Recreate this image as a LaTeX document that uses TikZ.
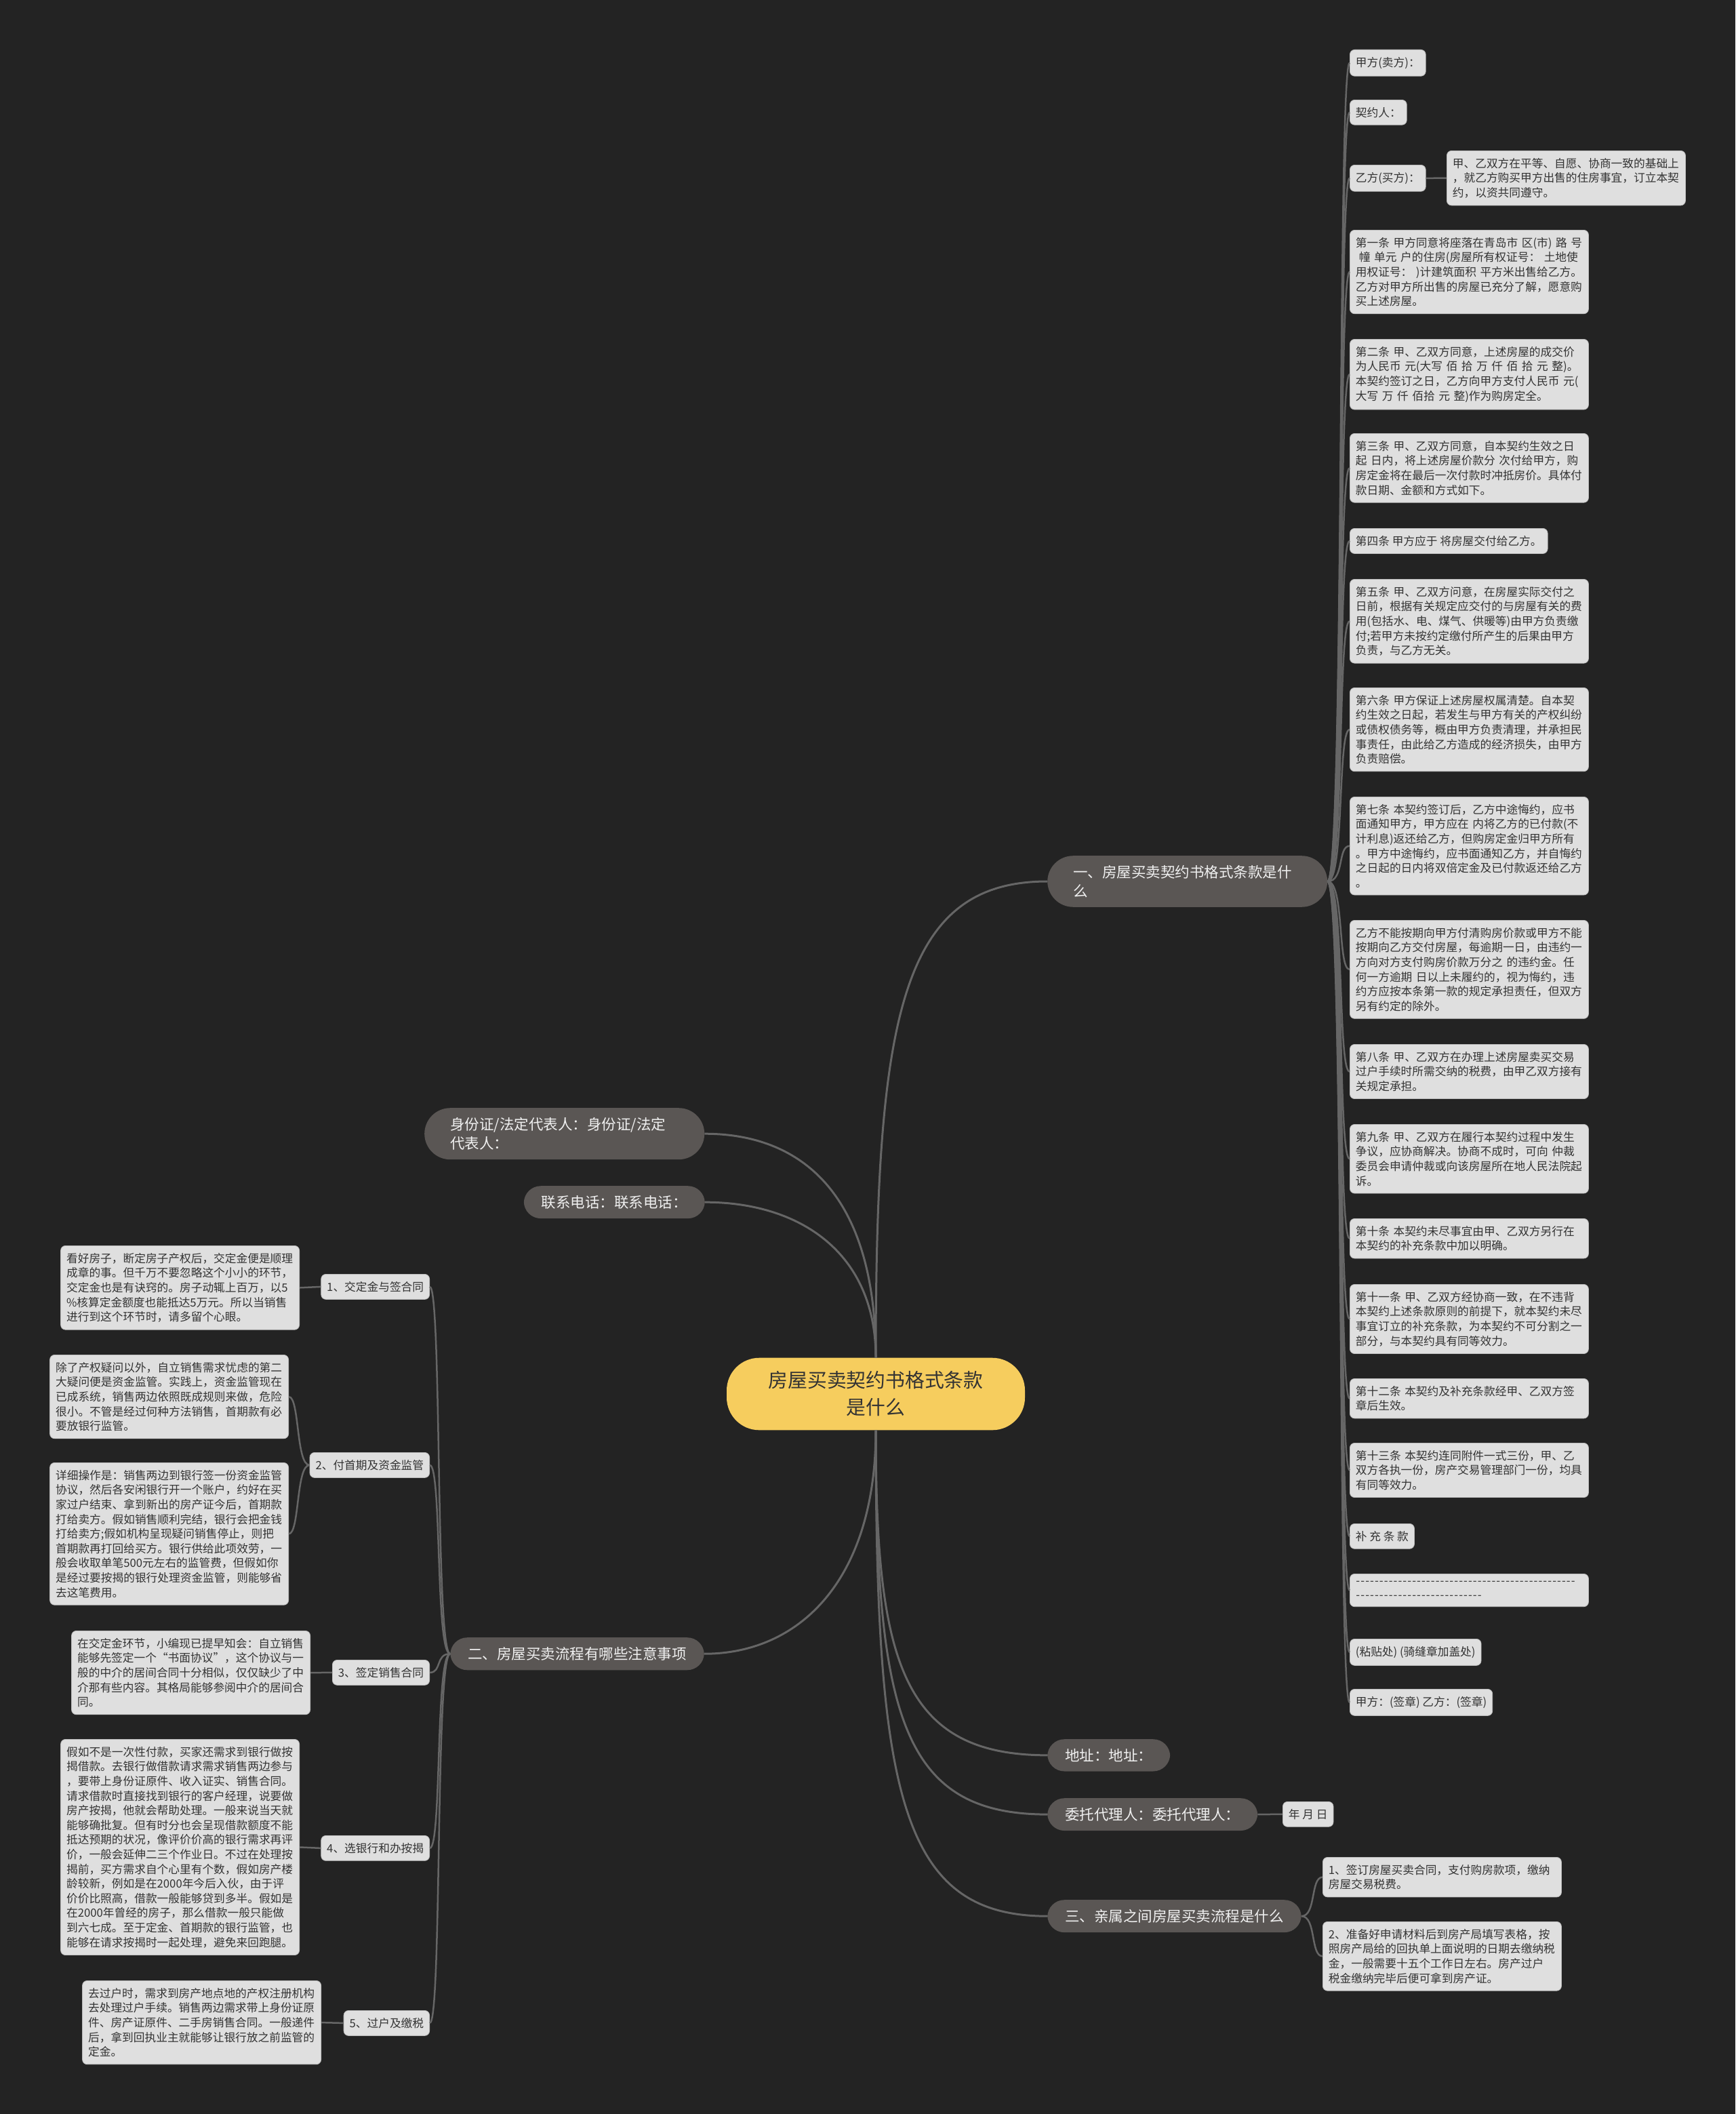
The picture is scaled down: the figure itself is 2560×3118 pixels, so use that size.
\documentclass[tikz,border=0pt]{standalone}
\usepackage{fontspec}
\setmainfont{Noto Sans CJK SC}
\usepackage{tikz}
\usetikzlibrary{positioning,calc}
\definecolor{bgdark}{HTML}{232323}
\definecolor{leaffill}{HTML}{DFDFDF}
\definecolor{leafline}{HTML}{BDBDBD}
\definecolor{inkdark}{HTML}{333333}
\definecolor{branchfill}{HTML}{5A5654}
\definecolor{rootfill}{HTML}{F6CD5E}
\definecolor{edgegray}{HTML}{666666}
\newcommand{\dashrun}[1]{\foreach \i in {1,...,#1}{\makebox[6.9pt]{-}}}

\begin{document}
\begin{tikzpicture}[x=1pt, y=-1pt,
  rootnode/.style={fill=rootfill, rounded corners=48pt, text=inkdark,
               text width=320pt, align=center, inner xsep=60pt, inner ysep=20pt,
               font=\fontsize{28.8}{40}\selectfont},
  branch/.style={fill=branchfill, rounded corners=25pt, text=white!94!black,
              inner xsep=26pt, inner ysep=14pt, align=left,
              font=\fontsize{21.5}{28}\selectfont},
  branchw/.style={branch, rounded corners=38pt, text width=337pt, inner xsep=38pt},
  leaf/.style={fill=leaffill, draw=leafline, line width=0.8pt, rounded corners=7pt,
               text=inkdark, inner xsep=8.5pt, inner ysep=10.7pt, align=left,
               anchor=north west, font=\fontsize{16.7}{21.6}\selectfont},
  leafw/.style={leaf, text width=335pt},
  edge/.style={line width=3pt, edgegray},
  twig/.style={line width=2.5pt, edgegray},
]

% background and frame
\fill[bgdark] (0,0) rectangle (2560,3118);
\useasboundingbox (0,0) rectangle (2560,3118);

% root
\node[rootnode] (root) at (1292,2056) {房屋买卖契约书格式条款\\是什么};

% main branches
\node[branchw, anchor=north west] (bA) at (1545,1262) {一、房屋买卖契约书格式条款是什\\么};
\node[branchw, anchor=north west] (bId) at (626,1634) {身份证/法定代表人：身份证/法定\\代表人：};
\node[branch, anchor=north east] (bTel) at (1040,1749) {联系电话：联系电话：};
\node[branch, anchor=north east] (bB) at (1039,2415) {二、房屋买卖流程有哪些注意事项};
\node[branch, anchor=north west] (bAddr) at (1545,2565) {地址：地址：};
\node[branch, anchor=north west] (bAgent) at (1545,2652) {委托代理人：委托代理人：};
\node[branch, anchor=north west] (bC) at (1545,2802) {三、亲属之间房屋买卖流程是什么};

\draw[edge] (root.north) .. controls +(0,-505) and +(-215,0) .. (bA.west);
\draw[edge] (root.north) .. controls +(0,-245) and +(140,0) .. (bId.east);
\draw[edge] (root.north) .. controls +(0,-155) and +(140,0) .. (bTel.east);
\draw[edge] (root.south) .. controls +(0,220) and +(141,0) .. (bB.east);
\draw[edge] (root.south) .. controls +(0,340) and +(-215,0) .. (bAddr.west);
\draw[edge] (root.south) .. controls +(0,420) and +(-215,0) .. (bAgent.west);
\draw[edge] (root.south) .. controls +(0,540) and +(-215,0) .. (bC.west);

% branch one: contract clauses
\node[leaf] (jia) at (1991,73) {甲方(卖方)：};
\node[leaf] (qyr) at (1991,147) {契约人：};
\node[leaf] (yi) at (1991,243) {乙方(买方)：};
\node[leafw] (yiTxt) at (2134,222) {甲、乙双方在平等、自愿、协商一致的基础上\\，就乙方购买甲方出售的住房事宜，订立本契\\约，以资共同遵守。};
\node[leafw] (art1) at (1991,339) {第一条 甲方同意将座落在青岛市 区(市) 路 号\\\hspace*{0.3em}幢 单元 户的住房(房屋所有权证号： 土地使\\用权证号： )计建筑面积 平方米出售给乙方。\\乙方对甲方所出售的房屋已充分了解，愿意购\\买上述房屋。};
\node[leafw] (art2) at (1991,500) {第二条 甲、乙双方同意，上述房屋的成交价\\为人民币 元(大写 佰 拾 万 仟 佰 拾 元 整)。\\本契约签订之日，乙方向甲方支付人民币 元(\\大写 万 仟 佰拾 元 整)作为购房定全。};
\node[leafw] (art3) at (1991,639) {第三条 甲、乙双方同意，自本契约生效之日\\起 日内，将上述房屋价款分 次付给甲方，购\\房定金将在最后一次付款时冲抵房价。具体付\\款日期、金额和方式如下。};
\node[leaf] (art4) at (1991,779) {第四条 甲方应于 将房屋交付给乙方。};
\node[leafw] (art5) at (1991,854) {第五条 甲、乙双方问意，在房屋实际交付之\\日前，根据有关规定应交付的与房屋有关的费\\用(包括水、电、煤气、供暖等)由甲方负责缴\\付;若甲方未按约定缴付所产生的后果由甲方\\负责，与乙方无关。};
\node[leafw] (art6) at (1991,1014) {第六条 甲方保证上述房屋权属清楚。自本契\\约生效之日起，若发生与甲方有关的产权纠纷\\或债权债务等，概由甲方负责清理，并承担民\\事责任，由此给乙方造成的经济损失，由甲方\\负责赔偿。};
\node[leafw] (art7) at (1991,1175) {第七条 本契约签订后，乙方中途悔约，应书\\面通知甲方，甲方应在 内将乙方的已付款(不\\计利息)返还给乙方，但购房定金归甲方所有\\。甲方中途悔约，应书面通知乙方，并自悔约\\之日起的日内将双倍定金及已付款返还给乙方\\。};
\node[leafw] (art7b) at (1991,1357) {乙方不能按期向甲方付清购房价款或甲方不能\\按期向乙方交付房屋，每逾期一日，由违约一\\方向对方支付购房价款万分之 的违约金。任\\何一方逾期 日以上未履约的，视为悔约，违\\约方应按本条第一款的规定承担责任，但双方\\另有约定的除外。};
\node[leafw] (art8) at (1991,1540) {第八条 甲、乙双方在办理上述房屋卖买交易\\过户手续时所需交纳的税费，由甲乙双方接有\\关规定承担。};
\node[leafw] (art9) at (1991,1658) {第九条 甲、乙双方在履行本契约过程中发生\\争议，应协商解决。协商不成时，可向 仲裁\\委员会申请仲裁或向该房屋所在地人民法院起\\诉。};
\node[leafw] (art10) at (1991,1797) {第十条 本契约未尽事宜由甲、乙双方另行在\\本契约的补充条款中加以明确。};
\node[leafw] (art11) at (1991,1894) {第十一条 甲、乙双方经协商一致，在不违背\\本契约上述条款原则的前提下，就本契约未尽\\事宜订立的补充条款，为本契约不可分割之一\\部分，与本契约具有同等效力。};
\node[leafw] (art12) at (1991,2033) {第十二条 本契约及补充条款经甲、乙双方签\\章后生效。};
\node[leafw] (art13) at (1991,2128) {第十三条 本契约连同附件一式三份，甲、乙\\双方各执一份，房产交易管理部门一份，均具\\有同等效力。};
\node[leaf] (bc) at (1991,2247) {补 充 条 款};
\node[leafw] (dash) at (1991,2321) {\dashrun{47}\\\dashrun{27}};
\node[leaf] (stick) at (1991,2417) {(粘贴处) (骑缝章加盖处)};
\node[leaf] (sign) at (1991,2491) {甲方：(签章) 乙方：(签章)};

\foreach \n in {jia,qyr,yi,art1,art2,art3,art4,art5,art6,art7,art7b,art8,art9,
                art10,art11,art12,art13,bc,dash,stick,sign}
  \draw[twig] (bA.east) .. controls +(25,0) and +(-18,0) .. (\n.west);
\draw[twig] (yi.east) -- (yiTxt.west);

% branch two: steps on the left
\node[leaf, anchor=north east] (s1) at (634,1879) {1、交定金与签合同};
\node[leafw, anchor=north east] (s1t) at (442,1837) {看好房子，断定房子产权后，交定金便是顺理\\成章的事。但千万不要忽略这个小小的环节，\\交定金也是有诀窍的。房子动辄上百万，以5\\\%核算定金额度也能抵达5万元。所以当销售\\进行到这个环节时，请多留个心眼。};
\node[leaf, anchor=north east] (s2) at (634,2142) {2、付首期及资金监管};
\node[leafw, anchor=north east] (s2a) at (426,1998) {除了产权疑问以外，自立销售需求忧虑的第二\\大疑问便是资金监管。实践上，资金监管现在\\已成系统，销售两边依照既成规则来做，危险\\很小。不管是经过何种方法销售，首期款有必\\要放银行监管。};
\node[leafw, anchor=north east] (s2b) at (426,2157) {详细操作是：销售两边到银行签一份资金监管\\协议，然后各安闲银行开一个账户，约好在买\\家过户结束、拿到新出的房产证今后，首期款\\打给卖方。假如销售顺利完结，银行会把金钱\\打给卖方;假如机构呈现疑问销售停止，则把\\首期款再打回给买方。银行供给此项效劳，一\\般会收取单笔500元左右的监管费，但假如你\\是经过要按揭的银行处理资金监管，则能够省\\去这笔费用。};
\node[leaf, anchor=north east] (s3) at (634,2448) {3、签定销售合同};
\node[leafw, anchor=north east] (s3t) at (458,2405) {在交定金环节，小编现已提早知会：自立销售\\能够先签定一个“书面协议”，这个协议与一\\般的中介的居间合同十分相似，仅仅缺少了中\\介那有些内容。其格局能够参阅中介的居间合\\同。};
\node[leaf, anchor=north east] (s4) at (634,2707) {4、选银行和办按揭};
\node[leafw, anchor=north east] (s4t) at (442,2565) {假如不是一次性付款，买家还需求到银行做按\\揭借款。去银行做借款请求需求销售两边参与\\，要带上身份证原件、收入证实、销售合同。\\请求借款时直接找到银行的客户经理，说要做\\房产按揭，他就会帮助处理。一般来说当天就\\能够确批复。但有时分也会呈现借款额度不能\\抵达预期的状况，像评价价高的银行需求再评\\价，一般会延伸二三个作业日。不过在处理按\\揭前，买方需求自个心里有个数，假如房产楼\\龄较新，例如是在2000年今后入伙，由于评\\价价比照高，借款一般能够贷到多半。假如是\\在2000年曾经的房子，那么借款一般只能做\\到六七成。至于定金、首期款的银行监管，也\\能够在请求按揭时一起处理，避免来回跑腿。};
\node[leaf, anchor=north east] (s5) at (634,2965) {5、过户及缴税};
\node[leafw, anchor=north east] (s5t) at (474,2921) {去过户时，需求到房产地点地的产权注册机构\\去处理过户手续。销售两边需求带上身份证原\\件、房产证原件、二手房销售合同。一般递件\\后，拿到回执业主就能够让银行放之前监管的\\定金。};

\foreach \n in {s1,s2,s3,s4,s5}
  \draw[twig] (bB.west) .. controls +(-22,0) and +(18,0) .. (\n.east);
\draw[twig] (s1.west) -- (s1t.east);
\draw[twig] (s2.west) .. controls +(-20,0) and +(16,0) .. (s2a.east);
\draw[twig] (s2.west) .. controls +(-20,0) and +(16,0) .. (s2b.east);
\draw[twig] (s3.west) -- (s3t.east);
\draw[twig] (s4.west) -- (s4t.east);
\draw[twig] (s5.west) -- (s5t.east);

% agent date and branch three
\node[leaf] (date) at (1892,2657) {年 月 日};
\draw[twig] (bAgent.east) -- (date.west);

\node[leafw] (c1) at (1951,2739) {1、签订房屋买卖合同，支付购房款项，缴纳\\房屋交易税费。};
\node[leafw] (c2) at (1951,2834) {2、准备好申请材料后到房产局填写表格，按\\照房产局给的回执单上面说明的日期去缴纳税\\金，一般需要十五个工作日左右。房产过户\\税金缴纳完毕后便可拿到房产证。};
\draw[twig] (bC.east) .. controls +(22,0) and +(-18,0) .. (c1.west);
\draw[twig] (bC.east) .. controls +(22,0) and +(-18,0) .. (c2.west);

\end{tikzpicture}
\end{document}
